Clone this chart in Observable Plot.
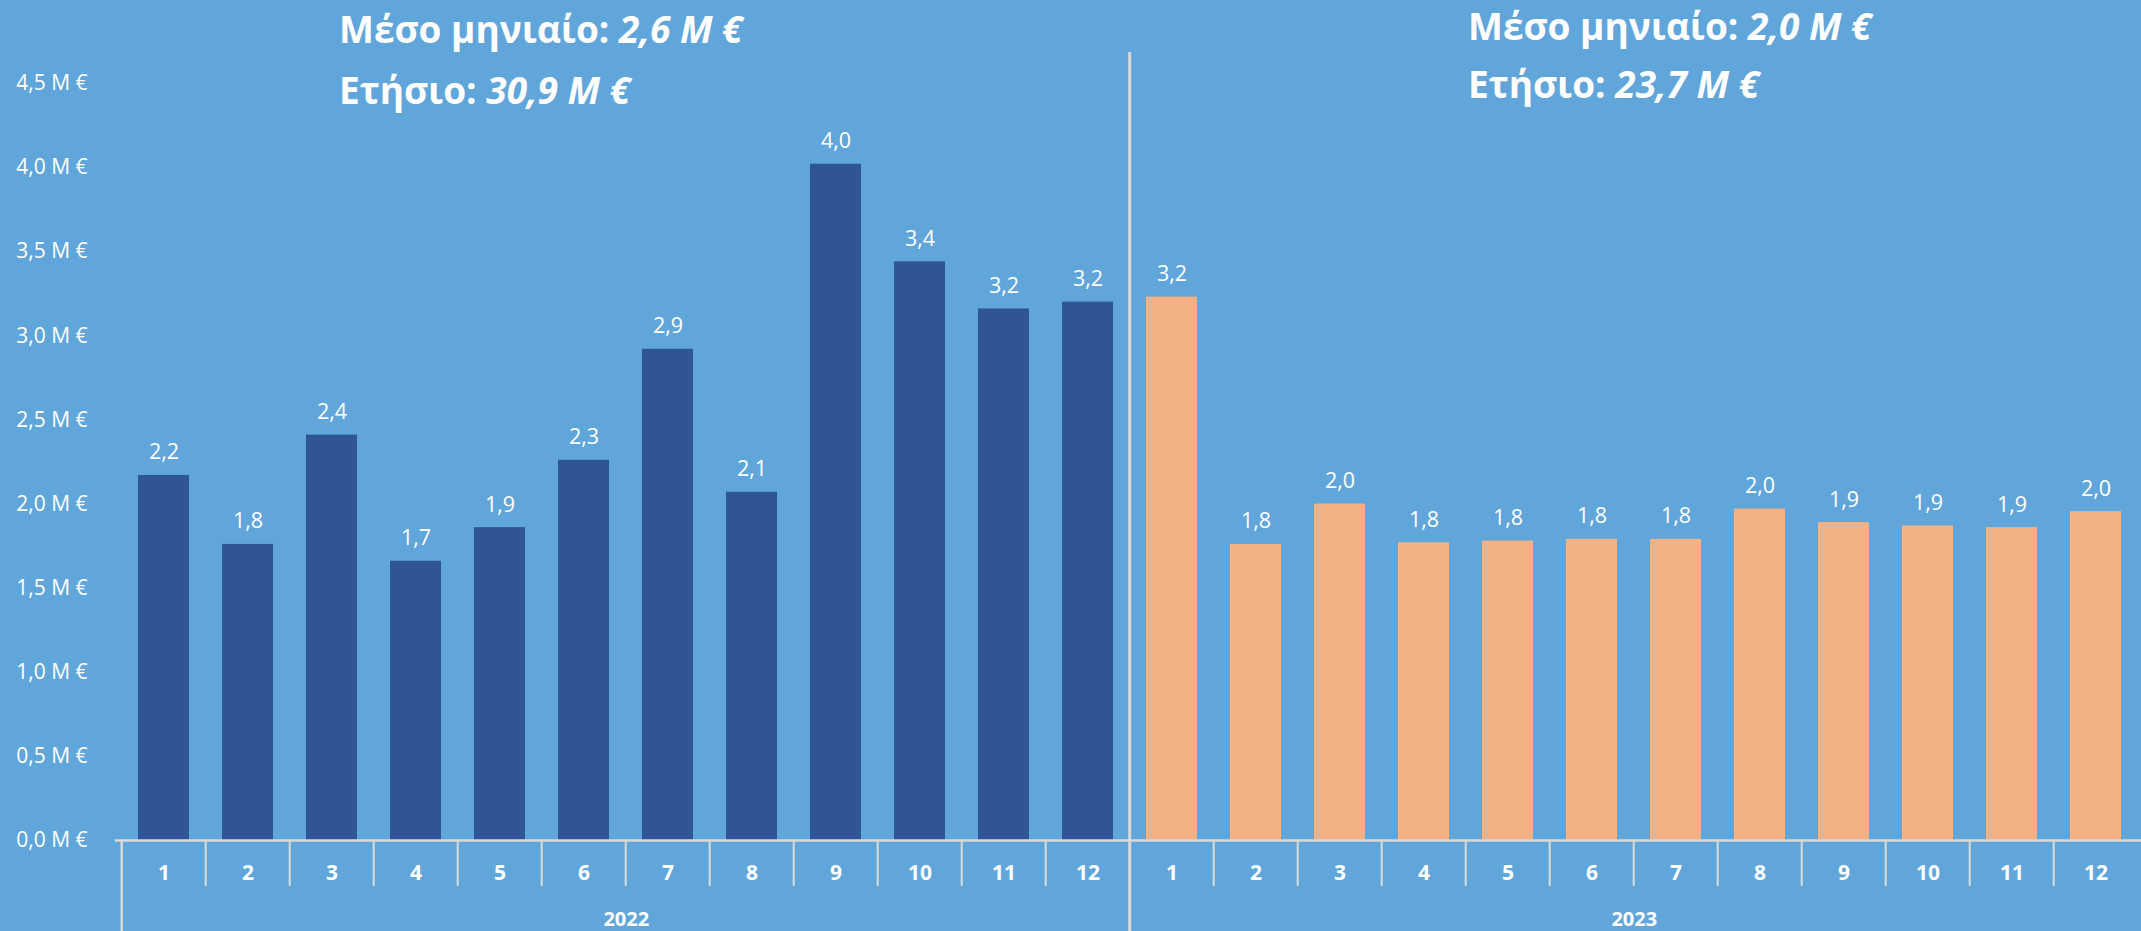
<!DOCTYPE html>
<html>
<head>
<meta charset="utf-8">
<script src="https://cdn.jsdelivr.net/npm/d3@7"></script>
<script src="https://cdn.jsdelivr.net/npm/@observablehq/plot@0.6"></script>
<style>
  html, body { margin: 0; padding: 0; background: #61a6da; }
  #wrap { position: relative; width: 2141px; height: 931px; overflow: hidden; font-family: "Open Sans", "Noto Sans", sans-serif; }
  .ttl { position: absolute; color: #fff; font-weight: 700; font-size: 37px; line-height: 37px; white-space: nowrap; }
  .ttl i { font-style: italic; }
</style>
</head>
<body>
<div id="wrap"></div>
<script>
// ---- data ----
const years = ["2022", "2023"];
const months = [1, 2, 3, 4, 5, 6, 7, 8, 9, 10, 11, 12];
const values2022 = [2.17, 1.76, 2.41, 1.66, 1.86, 2.26, 2.92, 2.07, 4.02, 3.44, 3.16, 3.20];
const values2023 = [3.23, 1.76, 2.00, 1.77, 1.78, 1.79, 1.79, 1.97, 1.89, 1.87, 1.86, 1.955];
const yTicks = [0, 0.5, 1, 1.5, 2, 2.5, 3, 3.5, 4, 4.5];
const monthlyAvgLabel = "Μέσο μηνιαίο:";
const annualLabel = "Ετήσιο:";
const monthlyAvg = ["2,6 M €", "2,0 M €"];
const annualTotal = ["30,9 M €", "23,7 M €"];
const colors = {"2022": "#2f5597", "2023": "#f4b183"};

// ---- table ----
const seriesByYear = {"2022": values2022, "2023": values2023};
const rows = years.flatMap(yr => months.map((m, i) => ({
  year: yr, month: m, key: yr + "|" + m, value: seriesByYear[yr][i]
})));
const keys = rows.map(d => d.key);
const yearStarts = rows.filter(d => d.month === 1);
const inner = rows.filter(d => d.month !== 1);
const yearMid = rows.filter(d => d.month === 6);

// ---- layout ----
const W = 2141, H = 931;
const xLeft = 115, xRight = 2145;
const step = (xRight - xLeft) / keys.length;
const pIn = 0.389;
const fmt1 = v => v.toFixed(1).replace(".", ",");
const grid = "#d9d9d9";

const chart = Plot.plot({
  width: W,
  height: H,
  marginLeft: xLeft,
  marginRight: 0,
  marginTop: 83,
  marginBottom: 91,
  style: {background: "transparent", color: "white", fontFamily: "'Open Sans', 'Noto Sans', sans-serif", overflow: "visible"},
  x: {type: "band", domain: keys, range: [xLeft, xRight], paddingInner: pIn, paddingOuter: pIn / 2, axis: null},
  y: {domain: [0, 4.5], range: [840, 83], axis: null},
  marks: [
    Plot.axisY({ticks: yTicks, tickSize: 0, tickPadding: 28, fontSize: 21, label: null,
      tickFormat: d => fmt1(d) + " M €", fill: "white"}),
    Plot.barY(rows, {x: "key", y: "value", fill: d => colors[d.year]}),
    Plot.text(rows, {x: "key", y: "value", text: d => fmt1(d.value), lineAnchor: "bottom", dy: -16,
      fill: "white", fontSize: 21.5}),
    // baseline
    Plot.ruleY([0], {stroke: grid, strokeWidth: 2.5}),
    // month separators
    Plot.ruleX(inner, {x: "key", dx: -step / 2, y1: 0, y2: 0, insetBottom: -46, stroke: grid, strokeWidth: 2}),
    // year start separator (full depth)
    Plot.ruleX(yearStarts.slice(0, 1), {x: "key", dx: -step / 2, y1: 0, y2: 0, insetBottom: -91, stroke: grid, strokeWidth: 2.5}),
    // divider between years from top to bottom
    Plot.ruleX(yearStarts.slice(1), {x: "key", dx: -step / 2, insetTop: -31, insetBottom: -91, stroke: grid, strokeWidth: 3}),
    // month labels
    Plot.text(rows, {x: "key", text: d => String(d.month), frameAnchor: "bottom", lineAnchor: "bottom", dy: 39,
      fill: "white", fontSize: 21, fontWeight: "bold"}),
    // year labels
    Plot.text(yearMid, {x: "key", dx: step / 2, text: "year", frameAnchor: "bottom", lineAnchor: "bottom", dy: 85,
      fill: "white", fontSize: 20, fontWeight: "bold"})
  ]
});

const wrap = document.getElementById("wrap");
chart.style.position = "absolute";
chart.style.left = "0px";
chart.style.top = "0px";
wrap.appendChild(chart);

// titles (mixed bold / bold-italic)
const titlePos = [
  {left: 339, tops: [10, 71]},
  {left: 1468, tops: [7, 65]}
];
years.forEach((yr, i) => {
  const a = document.createElement("div");
  a.className = "ttl";
  a.style.left = titlePos[i].left + "px";
  a.style.top = titlePos[i].tops[0] + "px";
  a.innerHTML = monthlyAvgLabel + " <i>" + monthlyAvg[i] + "</i>";
  wrap.appendChild(a);
  const b = document.createElement("div");
  b.className = "ttl";
  b.style.left = titlePos[i].left + "px";
  b.style.top = titlePos[i].tops[1] + "px";
  b.innerHTML = annualLabel + " <i>" + annualTotal[i] + "</i>";
  wrap.appendChild(b);
});
</script>
</body>
</html>
